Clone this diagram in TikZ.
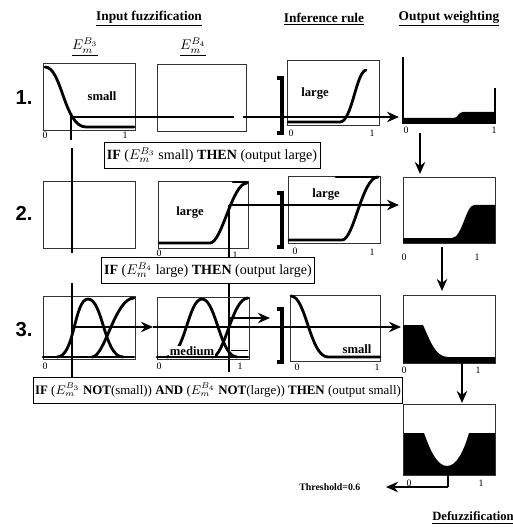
\documentclass[tikz,border=0pt]{standalone}
\usepackage{fontspec}
\setmainfont{Liberation Serif}
\newfontfamily\rowfont{Liberation Sans}
\usetikzlibrary{arrows.meta, positioning}

\begin{document}
\begin{tikzpicture}[
      x=0.25mm, y=-0.25mm,
      frame/.style={draw=black!80, line width=0.6pt, minimum width=23mm, minimum height=16.75mm,
                    inner sep=0pt, anchor=north west},
      mf/.style={line width=2pt, line cap=round, line join=round},
      wire/.style={line width=1.3pt},
      arr/.style={wire, -{Stealth[length=3mm, width=2.6mm]}},
      brk/.style={line width=2.2pt},
      rulebox/.style={draw, fill=white, line width=0.6pt, inner sep=2pt, minimum height=6.5mm},
      head/.style={font=\fontsize{9.5}{11}\selectfont\bfseries},
      tick/.style={font=\scriptsize, inner sep=0.5pt},
      lbl/.style={font=\small\bfseries, inner sep=1pt},
      rownum/.style={font=\rowfont\bfseries\Large}
    ]
      \useasboundingbox (0,0) rectangle (512,530);

      % headings
      \node[head] (tin) at (149,19) {\underline{Input fuzzification}};
      \node[head] (tinf) at (324,19) {\underline{Inference rule}};
      \node[head] (tout) at (449,19) {\underline{Output weighting}};
      \node (e3) at (85,47) {\underline{$E_m^{B_3}$}};
      \node (e4) at (193,47) {\underline{$E_m^{B_4}$}};
      \node[rownum] (r1) at (24,98) {1.};
      \node[rownum] (r2) at (24,213) {2.};
      \node[rownum] (r3) at (24,330) {3.};

      % row 1
      \node[frame] (a1) at (43,63) {};
      \node[frame, minimum width=22.25mm] (a2) at (157,64) {};
      \node[frame, minimum height=16.25mm] (i1) at (287,60) {};
      \draw[mf] (45,67) .. controls (62,67) and (64,127) .. (86,127) -- (134,127);
      \draw[mf] (288,122) -- (340,122) .. controls (352,122) and (356,72) .. (366,70);
      \fill (403,123) -- (403,118) -- (454,118) .. controls (458,118) and (458,112) .. (463,112)
            -- (495,112) -- (495,123) -- cycle;
      \draw[line width=0.8pt] (403,57) -- (403,123) -- (495,123) -- (495,88);
      \node[lbl] (s1) at (102,96) {small};
      \node[lbl] (l1) at (315,94) {large};
      \node[tick] at (45,135) {0}; \node[tick] at (125,135) {1};
      \node[tick] at (291,133) {0}; \node[tick] at (372,133) {1};
      \node[tick] at (406,130) {0}; \node[tick] at (494,130) {1};
      \draw[brk] (277,78) -- (282,78) -- (282,133) -- (277,133);
      \coordinate (x1) at (71,117);
      \coordinate (g1) at (234,117);
      \coordinate (g2) at (243,117);
      \coordinate (w1) at (399,117);
      \draw[wire] (71,115) -- (71,140);
      \draw[wire] (x1) -- (g1);
      \draw[arr] (g2) -- (w1);
      \coordinate (d1a) at (420,133);
      \coordinate (d1b) at (420,174);
      \draw[arr] (d1a) -- (d1b);

      % row 2
      \node[frame] (b1) at (43,181) {};
      \node[frame, minimum width=22.5mm] (b2) at (158,181) {};
      \node[frame] (i2) at (288,176) {};
      \node[frame, minimum height=16.5mm] (o2) at (403,177) {};
      \draw[mf] (159,243) -- (210,243) .. controls (222,243) and (232,183) .. (247,183);
      \draw[mf] (233,182) -- (247,182);
      \draw[mf] (289,240) -- (342,240) .. controls (354,240) and (362,177) .. (378,177);
      \draw[mf] (336,177) -- (378,177);
      \fill (403,243) -- (403,238) -- (452,238) .. controls (462,238) and (466,205) .. (474,205)
            -- (495,205) -- (495,243) -- cycle;
      \node[lbl] (l2) at (190,213) {large};
      \node[lbl] (l3) at (326,195) {large};
      \node[tick] at (159,253) {0}; \node[tick] at (235,255) {1};
      \node[tick] at (295,251) {0}; \node[tick] at (372,252) {1};
      \node[tick] at (404,257) {0}; \node[tick] at (477,257) {1};
      \draw[brk] (277,193) -- (282,193) -- (282,247) -- (277,247);
      \coordinate (x2) at (229,205);
      \coordinate (w2) at (399,205);
      \draw[wire] (72,148) -- (72,253);
      \draw[wire] (x2) -- (229,372);
      \draw[arr] (x2) -- (w2);
      \coordinate (d2a) at (442,247);
      \coordinate (d2b) at (442,291);
      \draw[arr] (d2a) -- (d2b);

      % row 3
      \node[frame, minimum height=15.75mm] (c1) at (43,296) {};
      \node[frame, minimum height=15.5mm] (c2) at (157,297) {};
      \node[frame, minimum width=22.5mm, minimum height=16.5mm] (i3) at (290,295) {};
      \node[frame, minimum height=17mm] (o3) at (403,295) {};
      \draw[mf] (43,357) -- (134,357);
      \draw[mf] (57,357) .. controls (75,357) and (74,299) .. (88,299)
                         .. controls (103,299) and (104,357) .. (123,357);
      \draw[mf] (92,357) .. controls (105,357) and (115,298) .. (134,298);
      \draw[mf] (157,357) -- (248,357);
      \draw[mf] (167,357) .. controls (185,357) and (188,299) .. (202,299)
                          .. controls (216,299) and (220,357) .. (237,357);
      \draw[mf] (212,357) .. controls (225,357) and (232,298) .. (248,298);
      \draw[line width=0.6pt] (231,350) -- (248,350);
      \draw[mf] (291,296) .. controls (306,296) and (310,357) .. (328,357) -- (380,357);
      \fill (403,363) -- (403,325) -- (423,325) .. controls (430,340) and (435,357) .. (448,357)
            -- (495,357) -- (495,363) -- cycle;
      \node[lbl, fill=white, inner sep=0.5pt] (m1) at (192,351) {medium};
      \node[lbl] (s2) at (357,349) {small};
      \node[tick] at (45,366) {0};
      \node[tick] at (159,366) {0}; \node[tick] at (240,366) {1};
      \node[tick] at (297,367) {0}; \node[tick] at (377,367) {1};
      \node[tick] at (404,370) {0}; \node[tick] at (478,370) {1};
      \draw[brk] (277,309) -- (282,309) -- (282,362) -- (277,362);
      \coordinate (x3) at (72,327);
      \coordinate (c3) at (153,327);
      \coordinate (w3) at (401,327);
      \coordinate (x4) at (230,318);
      \coordinate (b3) at (270,318);
      \draw[wire] (72,283) -- (72,377);
      \draw[arr] (x3) -- (c3);
      \draw[arr] (c3) -- (w3);
      \draw[arr] (x4) -- (b3);
      \coordinate (d3a) at (462,363);
      \coordinate (d3b) at (462,403);
      \draw[arr] (d3a) -- (d3b);

      % rules
      \node[rulebox] (rule1) at (212,155) {\textbf{IF} ($E_m^{B_3}$ small) \textbf{THEN} (output large)};
      \node[rulebox] (rule2) at (208,270) {\textbf{IF} ($E_m^{B_4}$ large) \textbf{THEN} (output large)};
      \node[rulebox, inner sep=1pt, font=\fontsize{9.2}{11}\selectfont] (rule3) at (218,390)
        {\textbf{IF} ($E_m^{B_3}$ \textbf{NOT}(small)) \textbf{AND} ($E_m^{B_4}$ \textbf{NOT}(large)) \textbf{THEN} (output small)};

      % defuzzification
      \fill (403,475) -- (403,433) -- (424,433) .. controls (430,450) and (437,466) .. (447,466)
            .. controls (457,466) and (464,450) .. (469,433) -- (495,433) -- (495,475) -- cycle;
      \node[frame, minimum height=17.75mm] (o4) at (403,404) {};
      \node[tick] at (409,483) {0}; \node[tick] at (481,483) {1};
      \coordinate (t0) at (448,475);
      \coordinate (t1) at (448,487);
      \coordinate (t2) at (386,487);
      \draw[wire] (t0) -- (t1);
      \draw[arr] (t1) -- (t2);
      \node[font=\scriptsize\bfseries, anchor=east, inner sep=1pt] (thr) at (362,487) {Threshold=0.6};
      \node[font=\small\bfseries] (tdef) at (473,518) {\underline{Defuzzification}};
    \end{tikzpicture}
\end{document}
